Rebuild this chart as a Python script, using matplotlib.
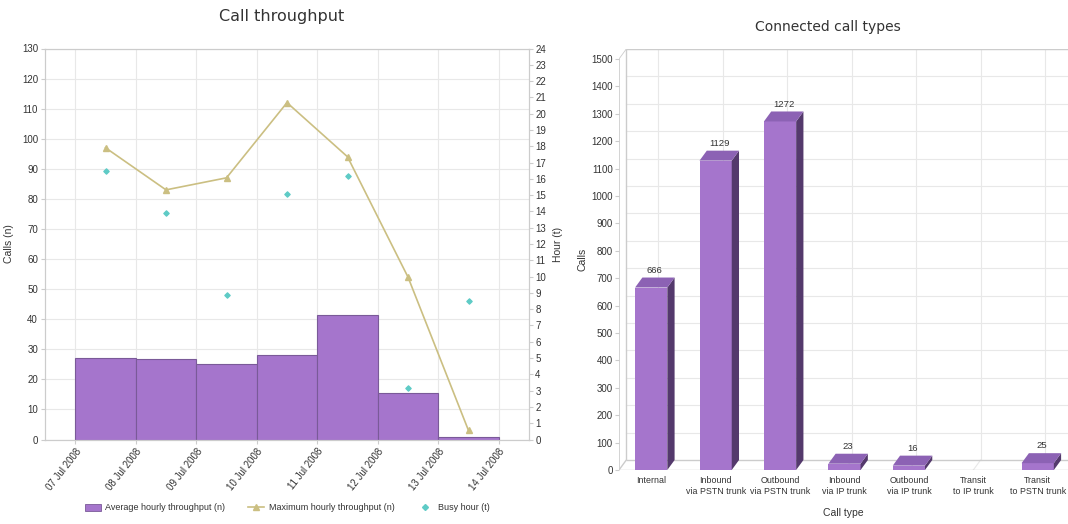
import matplotlib
matplotlib.use('Agg')
import matplotlib.pyplot as plt
import matplotlib.dates as mdates
from matplotlib.patches import Polygon, Patch
from matplotlib.lines import Line2D
import numpy as np
import pandas as pd

# Call throughput per day
days = pd.date_range('2008-07-07', '2008-07-13', freq='D')
avg_hourly = [27.2, 26.7, 25.2, 28.2, 41.3, 15.6, 0.9]
max_hourly = [97, 83, 87, 112, 94, 54, 3]
busy_hour = [16.5, 13.9, 8.85, 15.05, 16.15, 3.15, 8.5]

# Connected call types
call_types = ['Internal', 'Inbound\nvia PSTN trunk', 'Outbound\nvia PSTN trunk',
              'Inbound\nvia IP trunk', 'Outbound\nvia IP trunk',
              'Transit\nto IP trunk', 'Transit\nto PSTN trunk']
call_counts = [666, 1129, 1272, 23, 16, 0, 25]

BAR = '#a575cc'
BAR_TOP = '#8c62b4'
BAR_SIDE = '#54396c'
LINE = '#cbbf82'
BUSY = '#5ecbc6'
GRID = '#e8e8e8'
FRAME = '#cccccc'
TXT = '#333333'

plt.rcParams.update({
    'font.family': 'Liberation Sans',
    'font.size': 7,
    'xtick.color': FRAME,
    'ytick.color': FRAME,
    'xtick.labelcolor': TXT,
    'ytick.labelcolor': TXT,
})

W, H = 1068, 524
fig = plt.figure(figsize=(W / 100, H / 100), dpi=100)

# ---------------- left: call throughput ----------------
ax = fig.add_axes([45 / W, 1 - 439.5 / H, 484 / W, 391 / H])
ax.bar(days, avg_hourly, width=1, align='edge', color=BAR,
       edgecolor='#7a5a98', linewidth=0.8, zorder=2)
mid = days + pd.Timedelta(hours=12)
ax.plot(mid, max_hourly, color=LINE, lw=1.2, marker='^', ms=4.5, zorder=4)
ax.set_ylim(0, 130)
ax.set_yticks(range(0, 131, 10))
ax.set_xlim(pd.Timestamp('2008-07-06 12:00'), pd.Timestamp('2008-07-14 12:00'))
ax.set_xticks(pd.date_range('2008-07-07', '2008-07-14', freq='D'))
ax.xaxis.set_major_formatter(mdates.DateFormatter('%d %b %Y'))
for lab in ax.get_xticklabels():
    lab.set_rotation(52)
    lab.set_ha('right')
    lab.set_rotation_mode('anchor')
ax.grid(True, color=GRID, lw=0.8, zorder=0)
ax.set_axisbelow(True)
for s in ax.spines.values():
    s.set_color(FRAME)
ax.tick_params(length=3, width=0.8, pad=2)
ax.set_ylabel('Calls (n)', color=TXT, fontsize=7.5, labelpad=6)

ax2 = ax.twinx()
ax2.scatter(mid, busy_hour, marker='D', s=7, color=BUSY, zorder=5)
ax2.set_ylim(0, 24)
ax2.set_yticks(range(0, 25))
for s in ax2.spines.values():
    s.set_color(FRAME)
ax2.tick_params(length=3, width=0.8, pad=1.5)
ax2.set_ylabel('Hour (t)', color=TXT, fontsize=7.5, labelpad=5)

fig.text(282 / W, 1 - 16 / H, 'Call throughput', ha='center', va='center',
         fontsize=11.5, family='DejaVu Sans', color=TXT)

handles = [Patch(facecolor=BAR, edgecolor='#7a5a98', lw=0.6),
           Line2D([], [], color=LINE, lw=1.2, marker='^', ms=4.5),
           Line2D([], [], color=BUSY, lw=0, marker='D', ms=3)]
labels = ['Average hourly throughput (n)', 'Maximum hourly throughput (n)',
          'Busy hour (t)']
fig.legend(handles, labels, loc='center', bbox_to_anchor=(287 / W, 1 - 508 / H),
           ncol=3, frameon=False, fontsize=6.5, columnspacing=2.5,
           handlelength=1.8, handletextpad=0.5, labelcolor=TXT)

# ---------------- right: connected call types (3-D bars) ----------------
x0, x1 = -0.5, 6.47
dx, dy = 0.113, 36.4
ymax = 1500
bx = fig.add_axes([619 / W, 1 - 470 / H, (W - 619) / W, 421 / H])
bx.set_xlim(x0, x1)
bx.set_ylim(0, ymax + dy)
for s in bx.spines.values():
    s.set_visible(False)

# back wall grid
for v in range(100, ymax + 1, 100):
    bx.plot([x0 + dx, x1], [v + dy, v + dy], color=GRID, lw=0.8, zorder=0)
for i in range(len(call_types)):
    bx.plot([i + dx, i + dx], [dy, ymax + dy], color=GRID, lw=0.8, zorder=0)
    bx.plot([i, i + dx], [0, dy], color=GRID, lw=0.8, zorder=0)
# wall and floor frame
frame_kw = dict(color=FRAME, lw=1, zorder=1, solid_capstyle='butt')
bx.plot([x0 + dx, x1], [ymax + dy, ymax + dy], **frame_kw)
bx.plot([x0 + dx, x0 + dx], [dy, ymax + dy], **frame_kw)
bx.plot([x0 + dx, x1], [dy, dy], **frame_kw)
bx.plot([x0, x1], [0, 0], **frame_kw)
bx.plot([x0, x0 + dx], [0, dy], **frame_kw)
bx.plot([x0, x0], [0, ymax], color=FRAME, lw=0.6, zorder=1)
bx.plot([x0, x0 + dx], [ymax, ymax + dy], color=FRAME, lw=0.6, zorder=1)

w = 0.5
for i, v in enumerate(call_counts):
    if v <= 0:
        continue
    l, r = i - w / 2, i + w / 2
    bx.add_patch(Polygon([(l, 0), (r, 0), (r, v), (l, v)], closed=True,
                         facecolor=BAR, edgecolor='none', zorder=3))
    bx.add_patch(Polygon([(r, 0), (r + dx, dy), (r + dx, v + dy), (r, v)],
                         closed=True, facecolor=BAR_SIDE, edgecolor='none', zorder=3))
    bx.add_patch(Polygon([(l, v), (l + dx, v + dy), (r + dx, v + dy), (r, v)],
                         closed=True, facecolor=BAR_TOP, edgecolor='none', zorder=3))
    bx.annotate(str(v), (i + dx / 2, v + dy), xytext=(0, 2),
                textcoords='offset points', ha='center', va='bottom',
                fontsize=6.8, color=TXT, zorder=4)

bx.set_yticks(range(0, ymax + 1, 100))
bx.set_xticks(range(len(call_types)))
bx.set_xticklabels(call_types, linespacing=1.3, fontsize=6.4)
bx.tick_params(axis='y', length=3, width=0.8, pad=1.5)
bx.tick_params(axis='x', length=0, pad=4)
bx.set_xlabel('Call type', color=TXT, fontsize=7.5, labelpad=9)
bx.set_ylabel('Calls', color=TXT, fontsize=7.5, labelpad=3)

fig.text(828 / W, 1 - 27 / H, 'Connected call types', ha='center', va='center',
         fontsize=10, family='DejaVu Sans', color=TXT)

fig.savefig('out.png', dpi=100)
plt.close(fig)
